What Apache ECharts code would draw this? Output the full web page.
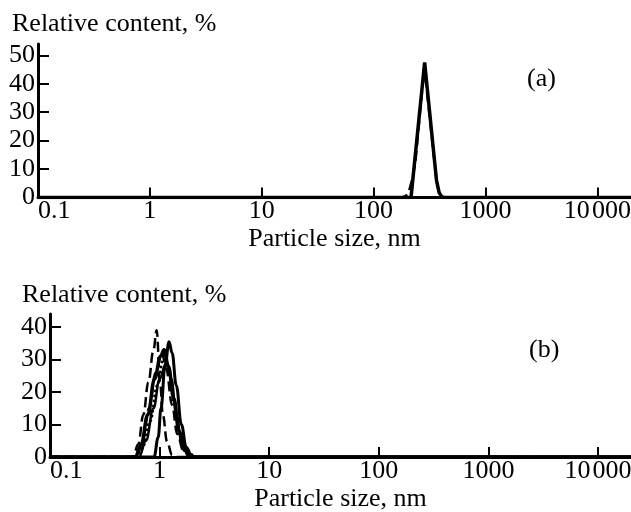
<!DOCTYPE html>
<html>
<head>
<meta charset="utf-8">
<script src="https://cdn.jsdelivr.net/npm/echarts@6/dist/echarts.min.js"></script>
<style>
  html, body { margin: 0; padding: 0; background: #fff; }
  #main { width: 631px; height: 512px; }
</style>
</head>
<body>
<div id="main"></div>
<script>
// tick labels
var xTicks = [0.1, 1, 10, 100, 1000, 10000];
var xTickLabels = ['0.1', '1', '10', '100', '1000', '10\u200a000'];
var yTicksA = [0, 10, 20, 30, 40, 50];
var yTicksB = [0, 10, 20, 30, 40];

// panel (a): two runs, almost the same peak near 290 nm
var sizeA1 = [0.1, 216, 286, 365, 385, 405, 425, 20000];
var valA1  = [0, 0, 47.5, 6, 1.8, 0.3, 0, 0];
var sizeA2 = [0.1, 180, 195, 208, 222, 237, 284, 365, 385, 405, 425, 20000];
var valA2  = [0, 0, 0.6, 2.5, 6.5, 13, 46, 6, 1.8, 0.3, 0, 0];

// panel (b): several runs around 1 nm
var sizeB1 = [0.1, 0.57, 0.64, 0.71, 0.79, 0.88, 0.94, 1.01, 1.07, 1.17, 1.3, 1.42, 20000];
var valB1  = [0, 0, 4, 13, 23, 33, 39, 23, 13, 4.7, 0.6, 0, 0];
var sizeB2 = [0.1, 0.89, 0.97, 1.03, 1.12, 1.22, 1.3, 1.42, 1.58, 1.75, 1.95, 2.1, 20000];
var valB2  = [0, 0, 6, 15, 28, 35.5, 32, 22, 10, 3, 0.5, 0, 0];
var sizeB3 = [0.1, 0.6, 0.68, 0.78, 0.9, 1.02, 1.1, 1.2, 1.35, 1.5, 1.7, 1.95, 20000];
var valB3  = [0, 0, 4, 13, 24, 31, 33, 28, 18, 8, 2, 0, 0];
var sizeB4 = [0.1, 0.62, 0.7, 0.8, 0.92, 1.05, 1.15, 1.3, 1.45, 1.65, 2.05, 20000];
var valB4  = [0, 0, 5, 15, 26, 32, 27, 16, 7, 2, 0, 0];
var sizeB5 = [0.1, 0.65, 0.75, 0.88, 1.0, 1.15, 1.28, 1.42, 1.6, 1.85, 20000];
var valB5  = [0, 0, 5, 15, 24, 29, 24, 13, 4, 0, 0];
var sizeB6 = [0.1, 0.6, 0.7, 0.82, 0.95, 1.08, 1.2, 1.35, 1.55, 1.8, 2.1, 20000];
var valB6  = [0, 0, 3, 11, 22, 30, 27, 17, 7, 2, 0, 0];

var font = 'Liberation Serif';

function pairs(xs, ys) {
  return xs.map(function (x, i) { return [x, ys[i]]; });
}

function xAxisFor(gridIndex) {
  return {
    type: 'log',
    gridIndex: gridIndex,
    min: 0.1,
    max: 20000,
    name: 'Particle size, nm',
    nameLocation: 'middle',
    nameGap: 29,
    nameTextStyle: { fontFamily: font, fontSize: 26, color: '#000' },
    axisLine: { lineStyle: { color: '#000', width: 3 } },
    axisTick: { inside: true, length: 10, lineStyle: { color: '#000', width: 2 }, customValues: xTicks },
    axisLabel: {
      customValues: xTicks,
      margin: 1,
      color: '#000',
      fontFamily: font,
      fontSize: 26,
      alignMinLabel: 'left',
      formatter: function (v) {
        var i = Math.round(Math.log(v) / Math.LN10) + 1;
        return xTickLabels[i] || '';
      }
    },
    splitLine: { show: false }
  };
}

function yAxisFor(gridIndex, max, ticks) {
  return {
    type: 'value',
    gridIndex: gridIndex,
    min: 0,
    max: max,
    interval: 10,
    axisLine: { show: true, lineStyle: { color: '#000', width: 3 } },
    axisTick: { show: true, inside: true, length: 11, lineStyle: { color: '#000', width: 2 }, customValues: ticks },
    axisLabel: { customValues: ticks, margin: 3, color: '#000', fontFamily: font, fontSize: 26 },
    splitLine: { show: false }
  };
}

function line(xi, data, width, dash, smooth) {
  return {
    type: 'line',
    xAxisIndex: xi,
    yAxisIndex: xi,
    data: data,
    showSymbol: false,
    smooth: smooth,
    smoothMonotone: 'x',
    lineStyle: { color: '#000', width: width, type: dash },
    silent: true
  };
}

var chart = echarts.init(document.getElementById('main'));

var option = {
  animation: false,
  backgroundColor: '#fff',
  grid: [
    { left: 38, right: 0, top: 44, height: 153.5, containLabel: false, outerBoundsMode: 'none' },
    { left: 50, right: 0, top: 314, height: 143, containLabel: false, outerBoundsMode: 'none' }
  ],
  xAxis: [xAxisFor(0), xAxisFor(1)],
  yAxis: [yAxisFor(0, 54, yTicksA), yAxisFor(1, 44, yTicksB)],
  graphic: [
    { type: 'text', x: 12, y: 24, style: { text: 'Relative content, %', font: '26px "Liberation Serif"', fill: '#000', textVerticalAlign: 'middle' } },
    { type: 'text', x: 22, y: 295, style: { text: 'Relative content, %', font: '26px "Liberation Serif"', fill: '#000', textVerticalAlign: 'middle' } },
    { type: 'text', x: 527, y: 79, style: { text: '(a)', font: '26px "Liberation Serif"', fill: '#000', textVerticalAlign: 'middle' } },
    { type: 'text', x: 529, y: 350, style: { text: '(b)', font: '26px "Liberation Serif"', fill: '#000', textVerticalAlign: 'middle' } }
  ],
  series: [
    line(0, pairs(sizeA1, valA1), 3.5, 'solid', false),
    line(0, pairs(sizeA2, valA2), 2.5, 'dashed', false),
    line(1, pairs(sizeB1, valB1), 2.5, 'dashed', 0.4),
    line(1, pairs(sizeB2, valB2), 3, 'solid', 0.4),
    line(1, pairs(sizeB3, valB3), 3.5, 'solid', 0.4),
    line(1, pairs(sizeB4, valB4), 2.5, 'dashed', 0.4),
    line(1, pairs(sizeB5, valB5), 2.5, 'solid', 0.4),
    line(1, pairs(sizeB6, valB6), 2.5, 'dotted', 0.4)
  ]
};

chart.setOption(option);
</script>
</body>
</html>
